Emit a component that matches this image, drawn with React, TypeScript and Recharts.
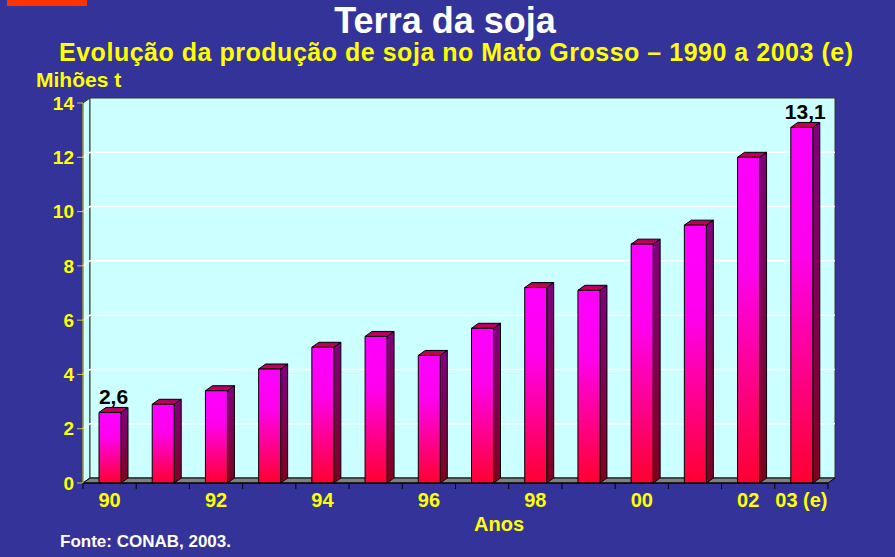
import React from "react";
import { BarChart, Bar, XAxis, YAxis, ReferenceArea, ReferenceLine, LabelList } from "recharts";

// Produção de soja em Mato Grosso (milhões de t)
const years = ["1990", "1991", "1992", "1993", "1994", "1995", "1996", "1997", "1998", "1999", "2000", "2001", "2002", "2003"];
const production = [2.6, 2.9, 3.4, 4.2, 5.0, 5.4, 4.7, 5.7, 7.2, 7.1, 8.8, 9.5, 12.0, 13.1];
const tickLabels = ["90", "", "92", "", "94", "", "96", "", "98", "", "00", "", "02", "03 (e)"];
const labelledYears = ["1990", "2003"];
const yTicks = [0, 2, 4, 6, 8, 10, 12, 14];
const gridValues = [2, 4, 6, 8, 10, 12];

const data = years.map((year, i) => ({
  year,
  value: production[i],
  label: labelledYears.includes(year) ? production[i].toFixed(1).replace(".", ",") : "",
}));

// depth of the 3D box
const DX = 7;
const DY = 5;

const FONT = "'Liberation Sans', Arial, sans-serif";
const BG = "#333399";
const YELLOW = "#ffff00";

function Wall(props: any) {
  const { x, y, width: w, height: h } = props;
  const bottom = y + h;
  return (
    <g>
      <polygon
        points={`${x},${bottom} ${x + DX},${bottom - DY} ${x + DX},${y - DY} ${x},${y}`}
        fill="#ccffff"
        stroke="#333"
        strokeWidth={1}
      />
      <rect x={x + DX} y={y - DY} width={w} height={h} fill="#ccffff" stroke="#333" strokeWidth={1} />
      <polygon
        points={`${x},${bottom} ${x + w},${bottom} ${x + w + DX},${bottom - DY} ${x + DX},${bottom - DY}`}
        fill="#808080"
        stroke="#000"
        strokeWidth={1}
      />
    </g>
  );
}

function GridLine(props: any) {
  const { x1, y1, x2, y2 } = props;
  return (
    <polyline
      points={`${x1},${y1} ${x1 + DX},${y1 - DY} ${x2 + DX},${y2 - DY}`}
      fill="none"
      stroke="#ffffff"
      strokeWidth={1.5}
    />
  );
}

function Box3D(props: any) {
  const { x, y, width: w, height: h } = props;
  if (!h || h <= 0) return null;
  return (
    <g stroke="#000" strokeWidth={1} strokeLinejoin="round">
      <polygon
        points={`${x + w},${y} ${x + w + DX},${y - DY} ${x + w + DX},${y + h - DY} ${x + w},${y + h}`}
        fill="url(#sideFill)"
      />
      <polygon points={`${x},${y} ${x + DX},${y - DY} ${x + w + DX},${y - DY} ${x + w},${y}`} fill="url(#topFill)" />
      <rect x={x} y={y} width={w} height={h} fill="url(#frontFill)" />
    </g>
  );
}

function YearTick(props: any) {
  const { x, y, payload } = props;
  const half = payload.offset ?? 26.6;
  const isLast = payload.index === years.length - 1;
  return (
    <g>
      <line x1={x - half} y1={y} x2={x - half} y2={y + 6} stroke="#000" />
      {isLast && <line x1={x + half} y1={y} x2={x + half} y2={y + 6} stroke="#000" />}
      <text x={x} y={y + 24} textAnchor="middle" fill={YELLOW} fontFamily={FONT} fontWeight="bold" fontSize={20}>
        {tickLabels[payload.index]}
      </text>
    </g>
  );
}

function ValueLabel(props: any) {
  const { x, y, width, value } = props;
  if (!value) return null;
  return (
    <text
      x={x + width / 2 + DX / 2}
      y={y - DY - 3}
      textAnchor="middle"
      fill="#000"
      fontFamily={FONT}
      fontWeight="bold"
      fontSize={21}
    >
      {value}
    </text>
  );
}

export default function App() {
  return (
    <div style={{ position: "absolute", left: 0, top: 0, width: 895, height: 557, background: BG, overflow: "hidden" }}>
      <BarChart
        width={895}
        height={557}
        data={data}
        margin={{ top: 103, right: 67, bottom: 0, left: 0 }}
        barSize={22}
      >
        <defs>
          <linearGradient id="frontFill" x1="0" y1="0" x2="0" y2="1">
            <stop offset="0" stopColor="#ff00ff" />
            <stop offset="0.35" stopColor="#ff00ee" />
            <stop offset="1" stopColor="#ff0030" />
          </linearGradient>
          <linearGradient id="sideFill" x1="0" y1="0" x2="0" y2="1">
            <stop offset="0" stopColor="#800080" />
            <stop offset="1" stopColor="#800020" />
          </linearGradient>
          <linearGradient id="topFill" x1="0" y1="0" x2="0" y2="1">
            <stop offset="0" stopColor="#a00070" />
            <stop offset="1" stopColor="#e00040" />
          </linearGradient>
        </defs>
        <XAxis
          dataKey="year"
          height={74}
          tickSize={0}
          tickMargin={0}
          interval={0}
          tick={<YearTick />}
          axisLine={{ stroke: "#000" }}
        />
        <YAxis
          width={83}
          domain={[0, 14]}
          ticks={yTicks}
          tickSize={6}
          tickMargin={3}
          axisLine={{ stroke: "#cccc33" }}
          tickLine={{ stroke: "#cccc33" }}
          tick={{ fill: YELLOW, fontFamily: FONT, fontWeight: "bold", fontSize: 19 }}
        />
        <ReferenceArea y1={0} y2={14} shape={<Wall />} zIndex={-90} ifOverflow="visible" />
        {gridValues.map((v) => (
          <ReferenceLine key={v} y={v} shape={<GridLine />} zIndex={-80} />
        ))}
        <Bar dataKey="value" shape={<Box3D />} isAnimationActive={false}>
          <LabelList dataKey="label" content={<ValueLabel />} />
        </Bar>
      </BarChart>

      <svg width={895} height={557} style={{ position: "absolute", left: 0, top: 0, pointerEvents: "none" }}>
        <rect x={7} y={0} width={80} height={6} fill="#ff3300" />
        <text x={445} y={33} textAnchor="middle" fill="#ffffff" fontFamily={FONT} fontWeight="bold" fontSize={36}>
          Terra da soja
        </text>
        <text
          x={59}
          y={61}
          textLength={794}
          lengthAdjust="spacing"
          fill={YELLOW}
          fontFamily={FONT}
          fontWeight="bold"
          fontSize={25}
        >
          Evolução da produção de soja no Mato Grosso – 1990 a 2003 (e)
        </text>
        <text x={36} y={87} fill={YELLOW} fontFamily={FONT} fontWeight="bold" fontSize={21}>
          Mihões t
        </text>
        <text x={499} y={531} textAnchor="middle" fill={YELLOW} fontFamily={FONT} fontWeight="bold" fontSize={20}>
          Anos
        </text>
        <text x={60} y={547} fill="#ffffff" fontFamily={FONT} fontWeight="bold" fontSize={17}>
          Fonte: CONAB, 2003.
        </text>
      </svg>
    </div>
  );
}
